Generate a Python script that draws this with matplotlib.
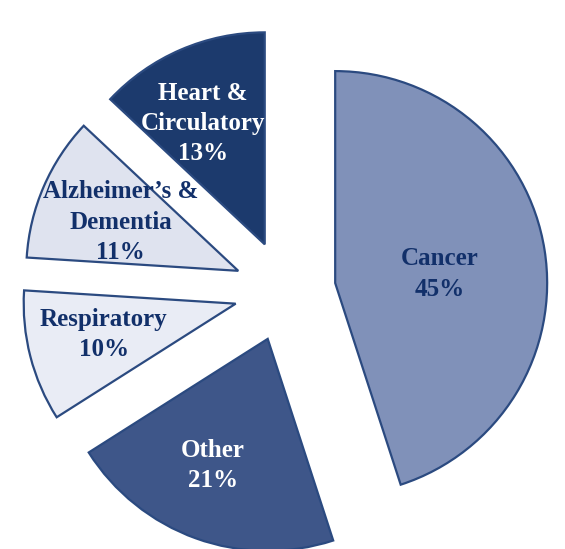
import numpy as np
import matplotlib
matplotlib.use('Agg')
from matplotlib import pyplot as plt

labels = ['Cancer', 'Other', 'Respiratory', "Alzheimer\u2019s &\nDementia", 'Heart &\nCirculatory']
shares = [45, 21, 10, 11, 13]
colors = ['#8091b9', '#3e5689', '#e9ecf5', '#dfe3ef', '#1c3a6d']
text_colors = ['#12306a', 'white', '#12306a', '#12306a', 'white']
label_r = [0.495, 0.65, 0.64, 0.60, 0.64]      # fraction of radius from wedge tip
label_shift = [-4, -3.6, -1.2, 0.9, 3.6]       # degrees off the wedge's middle

fig = plt.figure(figsize=(5.65, 5.49), dpi=100)
ax = fig.add_axes([0, 0, 1, 1])

wedges, _ = ax.pie(shares, startangle=90, counterclock=False,
                   explode=[0.24] * len(shares), colors=colors,
                   wedgeprops=dict(edgecolor='#2b4a80', linewidth=1.6))

for w, lab, val, tc, fr, sh in zip(wedges, labels, shares, text_colors, label_r, label_shift):
    mid = np.deg2rad((w.theta1 + w.theta2) / 2 + sh)
    cx, cy = w.center
    x = cx + fr * w.r * np.cos(mid)
    y = cy + fr * w.r * np.sin(mid)
    ax.text(x, y, f'{lab}\n{val}%', ha='center', va='center', color=tc,
            fontsize=18, fontweight='bold', family='Liberation Serif',
            linespacing=1.4)

ax.set_xlim(-1.344, 1.321)
ax.set_ylim(-1.217, 1.373)
ax.axis('off')

fig.savefig('out.png', dpi=100)
